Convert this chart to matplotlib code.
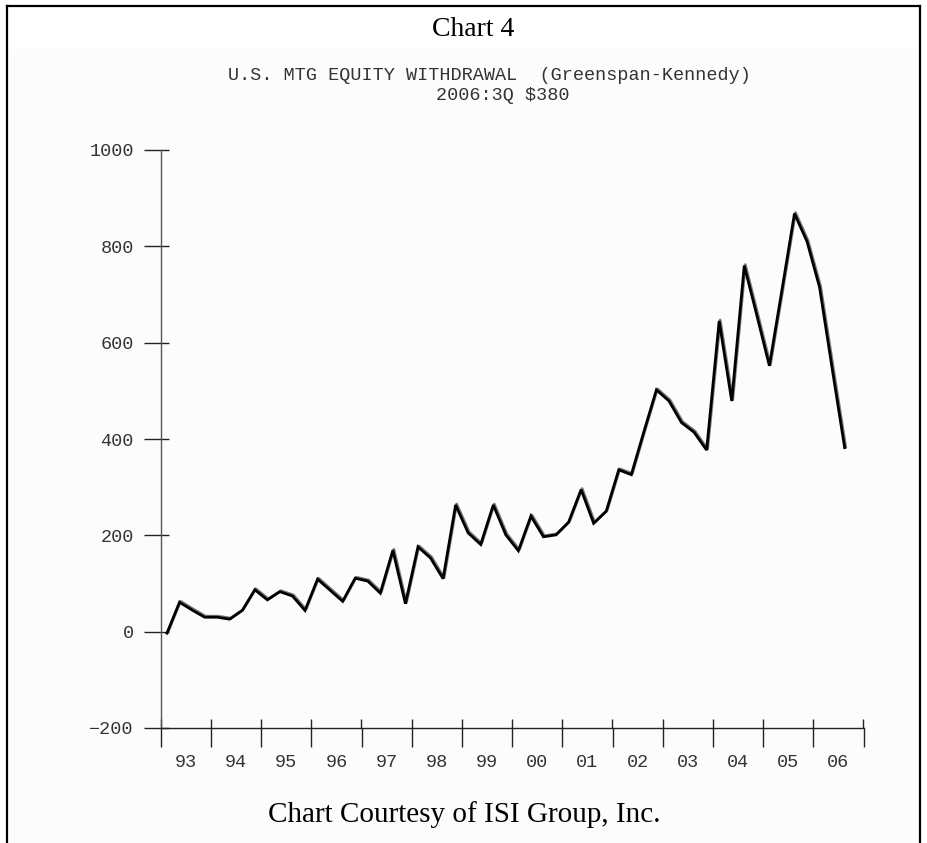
import matplotlib
matplotlib.use("Agg")
import matplotlib.pyplot as plt
from matplotlib.lines import Line2D
from matplotlib.patches import Rectangle
from matplotlib.transforms import offset_copy
import numpy as np

# ---- data (quarterly, 1993Q1 .. 2006Q3), $ billions, annual rate ----
start_year = 1993
start_quarter = 1
mew_values = [
    -3, 61, 45, 30,        # 1993
    30, 26, 44, 87,        # 1994
    66, 83, 74, 44,        # 1995
    109, 86, 63, 111,      # 1996
    105, 80, 169, 58,      # 1997
    176, 153, 110, 263,    # 1998
    205, 181, 263, 201,    # 1999
    168, 240, 197, 201,    # 2000
    227, 295, 225, 250,    # 2001
    336, 326, 415, 502,    # 2002
    479, 434, 414, 377,    # 2003
    645, 479, 760, 657,    # 2004
    552, 709, 868, 810,    # 2005
    715, 547, 382,         # 2006
]
year_labels = ["93", "94", "95", "96", "97", "98", "99", "00",
               "01", "02", "03", "04", "05", "06"]
y_ticks = [-200, 0, 200, 400, 600, 800, 1000]

title_text = "U.S. MTG EQUITY WITHDRAWAL  (Greenspan-Kennedy)"
subtitle_text = "2006:3Q $380"
header_text = "Chart 4"
footer_text = "Chart Courtesy of ISI Group, Inc."

# ---- derived x positions (mid-quarter) ----
n = len(mew_values)
qidx = np.arange(n) + (start_quarter - 1)
x = start_year + (qidx + 0.5) / 4.0
first_year = start_year
last_year = start_year + len(year_labels)   # 2007 (end of axis)

W, H = 927, 843
fig = plt.figure(figsize=(W / 100, H / 100), dpi=100)
fig.patch.set_facecolor("white")

# faint background panel below the header
fig.add_artist(Rectangle((9 / W, 0), (918 - 9) / W, 1 - 49 / H,
                         transform=fig.transFigure, facecolor="#fcfcfc",
                         edgecolor="none", zorder=0))

# page border (top, left, right)
bc = "black"
fig.add_artist(Line2D([7 / W, 920 / W], [1 - 6 / H, 1 - 6 / H],
                      transform=fig.transFigure, color=bc, lw=1.6))
fig.add_artist(Line2D([7 / W, 7 / W], [0, 1 - 6 / H],
                      transform=fig.transFigure, color=bc, lw=1.6))
fig.add_artist(Line2D([920 / W, 920 / W], [0, 1 - 6 / H],
                      transform=fig.transFigure, color=bc, lw=1.6))

# axes placement: x 160.7..863.5 px, y 150 (1000) .. 728 (-200)
left_px, right_px = 160.7, 863.5
top_px, bot_px = 150.0, 728.0
ax = fig.add_axes([left_px / W, 1 - bot_px / H,
                   (right_px - left_px) / W, (bot_px - top_px) / H])
ax.set_facecolor("none")

mono = "Liberation Mono"
txt_col = "#333333"
axis_col = "#555555"

# the series (doubled stroke look: gray copy offset by a pixel)
shifted = offset_copy(ax.transData, fig=fig, x=1.0, y=1.0, units="dots")
ax.plot(x, mew_values, color="#7a7a7a", lw=2.0, solid_joinstyle="round",
        transform=shifted, zorder=3)
ax.plot(x, mew_values, color="black", lw=2.0, solid_joinstyle="miter",
        zorder=4)

ax.set_xlim(first_year, last_year)
ax.set_ylim(min(y_ticks), max(y_ticks))

for s in ["top", "right"]:
    ax.spines[s].set_visible(False)
ax.spines["left"].set_color(axis_col)
ax.spines["bottom"].set_color("#222222")
ax.spines["left"].set_linewidth(1.0)
ax.spines["bottom"].set_linewidth(1.0)

# y ticks: extend outward 17px, labels
ax.set_yticks(y_ticks)
ax.set_yticklabels([str(v) if v >= 0 else "\u2212" + str(-v) for v in y_ticks],
                   fontfamily=mono, fontsize=13.3, color=txt_col)
ax.tick_params(axis="y", which="major", direction="out", length=12.3,
               width=1.0, color="#222222", pad=7.0)

# x ticks: year boundaries outward, labels at mid-year
ax.set_xticks(np.arange(first_year, last_year + 1))
ax.set_xticklabels([])
ax.tick_params(axis="x", which="major", direction="out", length=13.7,
               width=1.0, color="#222222")
ax.set_xticks(np.arange(first_year, last_year) + 0.5, minor=True)
ax.set_xticklabels(year_labels, minor=True, fontfamily=mono, fontsize=13.3,
                   color=txt_col)
ax.tick_params(axis="x", which="minor", length=0, pad=19.0)

# inward tick parts
sx = ax.secondary_xaxis("bottom")
sx.set_xticks(np.arange(first_year, last_year + 1))
sx.set_xticklabels([])
sx.tick_params(direction="in", length=6.5, width=1.0, color="#222222")
sx.spines["bottom"].set_visible(False)
sy = ax.secondary_yaxis("left")
sy.set_yticks(y_ticks)
sy.set_yticklabels([])
sy.tick_params(direction="in", length=5.8, width=1.0, color="#222222")
sy.spines["left"].set_visible(False)

# header / titles / footer
fig.text(473 / W, 1 - 29 / H, header_text, family="Liberation Serif",
         fontsize=20, ha="center", va="center", color="black")
fig.text(228 / W, 1 - 76 / H, title_text, family=mono, fontsize=13.3,
         ha="left", va="center", color=txt_col)
fig.text(436 / W, 1 - 95 / H, subtitle_text, family=mono, fontsize=13.3,
         ha="left", va="center", color=txt_col)
fig.text(464 / W, 1 - 815 / H, footer_text, family="Liberation Serif",
         fontsize=21, ha="center", va="center", color="black")

fig.savefig("out.png", dpi=100, facecolor="white")
